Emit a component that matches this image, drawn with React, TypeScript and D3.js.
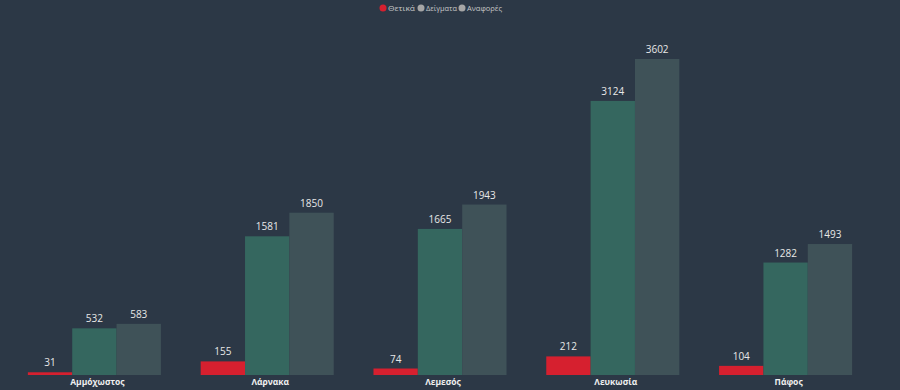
import React from 'react';
import * as d3 from 'd3';

const categories = ['Αμμόχωστος', 'Λάρνακα', 'Λεμεσός', 'Λευκωσία', 'Πάφος'];
const seriesNames = ['Θετικά', 'Δείγματα', 'Αναφορές'];
const positives = [31, 155, 74, 212, 104];
const samples = [532, 1581, 1665, 3124, 1282];
const reports = [583, 1850, 1943, 3602, 1493];

const colors = ['#d6202f', '#35675f', '#3f5258'];
const legendDot = ['#d6202f', '#a6a6a6', '#a6a6a6'];

const W = 900;
const H = 390;
const font = '"Open Sans", "Noto Sans", sans-serif';

const App: React.FC = () => {
  const series = [positives, samples, reports];

  const x = d3.scaleBand<string>()
    .domain(categories)
    .range([8, 872])
    .paddingInner(0.23)
    .paddingOuter(0.115);

  const x1 = d3.scaleBand<string>()
    .domain(seriesNames)
    .range([0, x.bandwidth()]);

  const y = d3.scaleLinear()
    .domain([0, 3602])
    .range([375, 59]);

  // legend layout
  const legendX = [383, 421, 462];
  const legendW = [27, 31, 35];

  return (
    <svg width={W} height={H} style={{ position: 'absolute', left: 0, top: 0, background: '#2c3846' }}>
      <rect x={0} y={0} width={W} height={H} fill="#2c3846" />

      {/* Legend */}
      {seriesNames.map((s, i) => (
        <g key={s} transform={`translate(${legendX[i]},8)`}>
          <circle r={3.5} cx={0} cy={0} fill={legendDot[i]} />
          <text x={5} y={3} fontSize={8} fill="#c8c8c8" fontFamily={font}
            textLength={legendW[i]} lengthAdjust="spacingAndGlyphs">{s}</text>
        </g>
      ))}

      {/* Bars */}
      {categories.map((c, ci) => (
        <g key={c} transform={`translate(${x(c)},0)`}>
          {seriesNames.map((s, si) => {
            const v = series[si][ci];
            const bx = x1(s)!;
            return (
              <g key={s}>
                <rect x={bx} y={y(v)} width={x1.bandwidth()} height={y(0) - y(v)} fill={colors[si]} />
                <text
                  x={bx + x1.bandwidth() / 2}
                  y={y(v) - 6}
                  textAnchor="middle"
                  fontSize={10}
                  fill="#e8e8e8"
                  fontFamily={font}
                >
                  {v}
                </text>
              </g>
            );
          })}
          <text
            x={x.bandwidth() / 2 + 3}
            y={385}
            textAnchor="middle"
            fontSize={8.5}
            fontWeight="bold"
            fill="#f0f0f0"
            fontFamily={font}
          >
            {c}
          </text>
        </g>
      ))}
    </svg>
  );
};

export default App;
